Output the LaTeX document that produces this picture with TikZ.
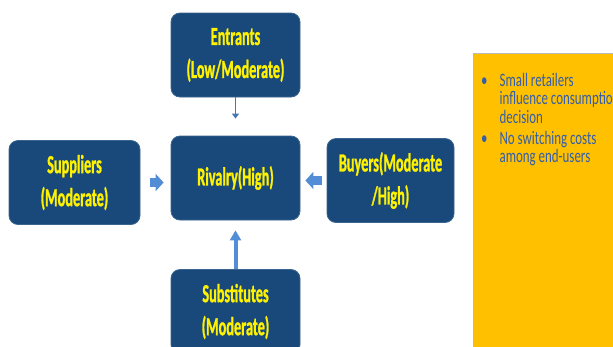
\documentclass[tikz,border=0pt]{standalone}
\usepackage{fontspec}
\setmainfont{Carlito}
\newfontfamily\boxfont[FakeStretch=0.55,BoldFeatures={FakeBold=1}]{Carlito}
\newfontfamily\notefont[FakeStretch=0.68]{Carlito}
\usetikzlibrary{arrows.meta}
\definecolor{boxblue}{RGB}{24,73,122}
\definecolor{arrblue}{RGB}{83,141,213}
\definecolor{panelyellow}{RGB}{255,192,0}
\definecolor{paneltext}{RGB}{52,94,170}

\begin{document}
\begin{tikzpicture}[x=1pt,y=-1pt,
	force/.style={rectangle,rounded corners=9pt,fill=boxblue,draw=boxblue!85!white,line width=0.8pt,
		minimum width=129pt,minimum height=84pt,inner sep=0pt,text=yellow,align=center,
		font=\boxfont\fontsize{26}{33}\selectfont\bfseries},
	block/.style={arrblue,line width=9pt,-{Triangle[length=8pt,width=17pt]}},
	thinarr/.style={arrblue!85!black,line width=1.6pt,-{Triangle[length=5pt,width=7pt]}},
	uparr/.style={arrblue,line width=4pt,-{Triangle[length=10pt,width=11pt]}}]
	\clip (0,0) rectangle (613,346);
	\node[rectangle,fill=panelyellow,draw=gray!55,line width=1pt,anchor=north west,
		minimum width=160pt,minimum height=310pt] (note) at (473,53) {};
	\node[force] (ent) at (235.5,55) {Entrants\\(Low/Moderate)};
	\node[force] (riv) at (235.5,178) {Rivalry(High)};
	\node[force,minimum width=131pt] (sup) at (74.5,182.5) {Suppliers\\(Moderate)};
	\node[force,minimum width=127pt] (buy) at (390.5,180.5) {Buyers(Moderate\\/High)};
	\node[force] (sub) at (235.5,311.5) {Substitutes\\(Moderate)};
	\node[anchor=north west,inner sep=0pt,text=paneltext,font=\notefont\fontsize{19}{18}\selectfont] (list) at (481,73)
		{\begin{tabular}{@{}l@{\hspace{12pt}}l@{}}
			\textbullet & Small retailers\\
			& influence consumption\\
			& decision\\[2pt]
			\textbullet & No switching costs\\
			& among end-users
		\end{tabular}};
	\draw[thinarr,shorten >=17pt] (ent) -- (riv);
	\draw[uparr,shorten >=10pt] (sub) -- (riv);
	\draw[block,shorten <=10pt,shorten >=7pt] (sup.east) -- (sup.east -| riv.west);
	\draw[block,shorten <=5pt,shorten >=5pt] (buy.west) -- (buy.west -| riv.east);
\end{tikzpicture}
\end{document}
